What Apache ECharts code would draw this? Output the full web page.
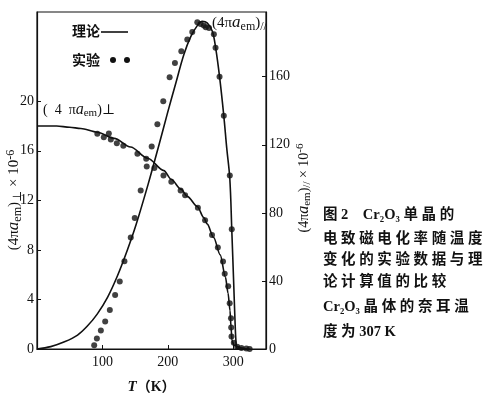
<!DOCTYPE html>
<html>
<head>
<meta charset="utf-8">
<script src="https://cdn.jsdelivr.net/npm/echarts@6/dist/echarts.min.js"></script>
<style>
  html, body { margin: 0; padding: 0; background: #fff; }
  #main { width: 500px; height: 397px; }
</style>
</head>
<body>
<div id="main"></div>
<script>
// theory curve, perpendicular (left axis, x10^-6)
var perpTheoryT = [0, 30, 50, 67, 92, 118, 143, 169, 194, 205, 220, 230, 245, 255, 260, 270, 280, 288, 292, 295, 296.5, 298, 301, 311, 320];
var perpTheory  = [18.0, 18.0, 17.9, 17.8, 17.5, 17.0, 16.3, 15.4, 14.4, 13.7, 12.9, 12.3, 11.5, 10.6, 10.1, 9.0, 7.6, 5.8, 4.5, 3.1, 1.8, 0.7, 0.3, 0.1, 0];

// theory curve, parallel (right axis, x10^-6)
var parTheoryT = [0, 21, 42, 62, 77, 92, 108, 123, 138, 151, 170, 186.5, 199, 212, 224.5, 235, 245, 252.6, 260, 268, 273, 279, 285.5, 290, 294.7, 297.7, 300.5, 302.5, 304, 305.5, 310, 325];
var parTheory  = [0, 1.4, 4.2, 8.2, 13.5, 20.5, 30.5, 43, 58, 72.5, 97, 120, 138, 156, 173, 183.5, 190, 192.5, 191.6, 186.7, 177, 160, 137, 118, 100, 70, 40, 18, 5, 0.5, 0, 0];

// experiment, perpendicular
var perpExpT = [92.2, 102.1, 109.8, 112.8, 122, 131.9, 153.5, 166.9, 179.4, 193.3, 205.3, 219.5, 226.4, 245.9, 256.9, 267.5, 276.4, 284.3, 286.9, 292.2, 294.5, 296.5, 296.8, 297.3, 300.8, 306, 312.5, 320, 325];
var perpExp  = [17.38, 17.1, 17.4, 16.9, 16.6, 16.4, 15.76, 15.35, 14.6, 14.0, 13.5, 12.8, 12.4, 11.4, 10.4, 9.2, 8.2, 7.07, 6.07, 5.06, 3.69, 2.48, 1.73, 1.0, 0.5, 0.19, 0.08, 0.05, 0];

// experiment, parallel
var parExpT = [87.4, 91.5, 97.6, 104.2, 111.3, 119.4, 126.5, 133.6, 143.3, 149.4, 158.5, 167.7, 175.3, 184, 193, 202.7, 210.8, 220.6, 229.7, 237.3, 245, 250, 255, 258, 263, 270.3, 272.9, 279, 285.5, 294.7, 297.7];
var parExp  = [2.2, 6.1, 10.8, 16.1, 22.9, 31.8, 39.6, 51.6, 65.5, 76.9, 93.1, 107.2, 119, 132, 145.5, 159.6, 168, 174.9, 181.8, 186.3, 192, 191, 190, 189, 188.6, 185, 177, 160, 137, 102, 70.4];

var xTicks = [100, 200, 300];
var leftTicks = [0, 4, 8, 12, 16, 20];
var rightTicks = [0, 40, 80, 120, 160];

function pairs(xs, ys) {
    var out = [];
    for (var i = 0; i < xs.length; i++) out.push([xs[i], ys[i]]);
    return out;
}

var serif = '"Liberation Serif", "DejaVu Serif", serif';
var cjk = '"Liberation Serif", "Noto Sans CJK SC", sans-serif';

// rich styles for the (4πa_em) labels
function emRich(big) {
    return {
        n: { fontSize: big, fontFamily: serif, lineHeight: big + 4, fill: '#111' },
        i: { fontSize: big + 2, fontFamily: serif, fontStyle: 'italic', lineHeight: big + 4, fill: '#111' },
        s: { fontSize: big - 3, fontFamily: serif, lineHeight: big - 3, verticalAlign: 'bottom', fill: '#111' },
        p: { fontSize: big - 3, fontFamily: serif, lineHeight: big - 3, verticalAlign: 'top', fill: '#111' }
    };
}

var chart = echarts.init(document.getElementById('main'));

chart.setOption({
    backgroundColor: '#fff',
    animation: false,
    grid: {
        left: 37, right: 234, top: 12, bottom: 48,
        show: true, borderColor: '#111', borderWidth: 1.2,
        outerBoundsMode: 'none'
    },
    xAxis: {
        type: 'value', min: 0, max: 350,
        name: '{t|T}{k|（K）}', nameLocation: 'middle', nameGap: 31,
        nameTextStyle: {
            rich: {
                t: { fontSize: 15, fontWeight: 'bold', fontStyle: 'italic', fontFamily: serif, color: '#111' },
                k: { fontSize: 14, fontWeight: 'bold', fontFamily: cjk, color: '#111' }
            }
        },
        axisLine: { lineStyle: { color: '#111', width: 1.2 } },
        axisTick: { inside: true, length: 4, customValues: xTicks, lineStyle: { color: '#111' } },
        axisLabel: { customValues: xTicks, margin: 6, fontSize: 14, fontFamily: serif, color: '#111' },
        splitLine: { show: false }
    },
    yAxis: [{
        type: 'value', min: 0, max: 27.2, position: 'left',
        axisLine: { show: true, lineStyle: { color: '#111', width: 1.2 } },
        axisTick: { show: true, inside: true, length: 4, customValues: leftTicks, lineStyle: { color: '#111' } },
        axisLabel: { customValues: leftTicks, margin: 3, fontSize: 14, fontFamily: serif, color: '#111' },
        splitLine: { show: false }
    }, {
        type: 'value', min: 0, max: 198, position: 'right',
        axisLine: { show: true, lineStyle: { color: '#111', width: 1.2 } },
        axisTick: { show: true, inside: true, length: 4, customValues: rightTicks, lineStyle: { color: '#111' } },
        axisLabel: { customValues: rightTicks, margin: 3, fontSize: 14, fontFamily: serif, color: '#111' },
        splitLine: { show: false }
    }],
    series: [{
        name: '理论⊥', type: 'line', yAxisIndex: 0,
        data: pairs(perpTheoryT, perpTheory),
        smooth: 0.3, smoothMonotone: 'x', showSymbol: false,
        lineStyle: { color: '#111', width: 1.6 }
    }, {
        name: '理论//', type: 'line', yAxisIndex: 1,
        data: pairs(parTheoryT, parTheory),
        smooth: 0.35, showSymbol: false,
        lineStyle: { color: '#111', width: 1.6 }
    }, {
        name: '实验⊥', type: 'scatter', yAxisIndex: 0,
        data: pairs(perpExpT, perpExp),
        symbolSize: 6, itemStyle: { color: '#111' }
    }, {
        name: '实验//', type: 'scatter', yAxisIndex: 1,
        data: pairs(parExpT, parExp),
        symbolSize: 6, itemStyle: { color: '#111' }
    }],
    graphic: [
        // legend
        { type: 'text', x: 72, y: 32, style: { text: '理论', fontSize: 14, fontWeight: 'bold', fontFamily: cjk, fill: '#111', verticalAlign: 'middle' } },
        { type: 'line', shape: { x1: 101, y1: 32, x2: 128, y2: 32 }, style: { stroke: '#111', lineWidth: 1.6 } },
        { type: 'text', x: 72, y: 61, style: { text: '实验', fontSize: 14, fontWeight: 'bold', fontFamily: cjk, fill: '#111', verticalAlign: 'middle' } },
        { type: 'circle', shape: { cx: 113, cy: 60, r: 3 }, style: { fill: '#111' } },
        { type: 'circle', shape: { cx: 127, cy: 60, r: 3 }, style: { fill: '#111' } },
        // curve labels
        { type: 'text', x: 43, y: 110, style: {
            text: '{n|(  4  π}{i|a}{s|em}{n|)}{n|⊥}', rich: emRich(14), verticalAlign: 'middle' } },
        { type: 'text', x: 212, y: 23, style: {
            text: '{n|(4π}{i|a}{s|em}{n|)}{s|//}', rich: emRich(15), verticalAlign: 'middle' } },
        // axis names
        { type: 'text', x: 14, y: 200, rotation: Math.PI / 2, style: {
            text: '{n|(4π}{i|a}{s|em}{n|)}{s|⊥}{n| × 10}{p|-6}', rich: emRich(15), align: 'center', verticalAlign: 'middle' } },
        { type: 'text', x: 304, y: 188, rotation: Math.PI / 2, style: {
            text: '{n|(4π}{i|a}{s|em}{n|)}{s|//}{n| × 10}{p|-6}', rich: emRich(14), align: 'center', verticalAlign: 'middle' } },
        // caption
        { type: 'text', x: 323, y: 215, style: { text: '图 2    Cr₂O₃ 单 晶 的', fontSize: 14.5, fontWeight: 'bold', fontFamily: cjk, fill: '#111', verticalAlign: 'middle' } },
        { type: 'text', x: 323, y: 239, style: { text: '电 致 磁 电 化 率 随 温 度', fontSize: 14.5, fontWeight: 'bold', fontFamily: cjk, fill: '#111', verticalAlign: 'middle' } },
        { type: 'text', x: 323, y: 260, style: { text: '变 化 的 实 验 数 据 与 理', fontSize: 14.5, fontWeight: 'bold', fontFamily: cjk, fill: '#111', verticalAlign: 'middle' } },
        { type: 'text', x: 323, y: 282, style: { text: '论 计 算 值 的 比 较', fontSize: 14.5, fontWeight: 'bold', fontFamily: cjk, fill: '#111', verticalAlign: 'middle' } },
        { type: 'text', x: 323, y: 307, style: { text: 'Cr₂O₃ 晶 体 的 奈 耳 温', fontSize: 14.5, fontWeight: 'bold', fontFamily: cjk, fill: '#111', verticalAlign: 'middle' } },
        { type: 'text', x: 323, y: 332, style: { text: '度 为 307 K', fontSize: 14.5, fontWeight: 'bold', fontFamily: cjk, fill: '#111', verticalAlign: 'middle' } }
    ]
});
</script>
</body>
</html>
